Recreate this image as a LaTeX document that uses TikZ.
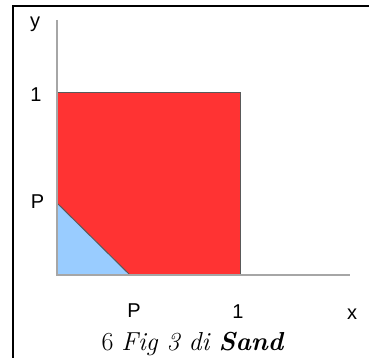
\documentclass[tikz,border=0pt]{standalone}
\usepackage{fontspec}
\newfontfamily\labelfont{Liberation Sans}
\usetikzlibrary{positioning}
\definecolor{sqred}{HTML}{FF3333}
\definecolor{triblue}{HTML}{99CCFF}
\begin{document}
\begin{tikzpicture}[
  x = 1pt, y = -1pt,
  axislab/.style  = {font=\labelfont\fontsize{20}{22}\selectfont, inner sep=0pt},
  caption/.style  = {font=\fontsize{26}{30}\selectfont, inner sep=0pt, anchor=base},
  axisline/.style = {draw=black!35, line width=1.2pt},
  region/.style   = {draw=black!65, line width=1pt},
  frameline/.style = {draw=black, line width=2.4pt}
]
\useasboundingbox (0,0) rectangle (369,358);

% ---- frame (only top and left edges are in view) -----------------------
\coordinate (frame top) at (369,6);
\coordinate (frame corner) at (13,6);
\coordinate (frame bottom) at (13,358);
\draw[frameline] (frame top) -- (frame corner) -- (frame bottom);

% ---- key points -----------------------------------------------------
\coordinate (O)    at (57,275);
\coordinate (ytop) at (57,20);
\coordinate (xend) at (350,275);
\coordinate (sqtl) at (57,93);
\coordinate (sqtr) at (240,93);
\coordinate (sqbr) at (240,275);
\coordinate (py)   at (57,203);
\coordinate (px)   at (130,275);

% ---- regions ----------------------------------------------------------
\fill[sqred] (O) rectangle (sqtr);
\fill[triblue] (O) -- (py) -- (px) -- cycle;
\draw[region] (sqtl) -- (sqtr) -- (sqbr);
\draw[region] (py) -- (px);

% ---- axes -------------------------------------------------------------
\draw[axisline] (ytop) -- (O) -- (xend);

% ---- labels -----------------------------------------------------------
\node[axislab] (ylab)  at (35,24)  {y};
\node[axislab] (one y) at (36,95)  {1};
\node[axislab] (p y)   at (37.5,202) {P};
\node[axislab] (p x)   at (134,311) {P};
\node[axislab] (one x) at (238,312) {1};
\node[axislab] (xlab)  at (352,314) {x};

\node[caption] (cap) at (193,350) {6 \textit{Fig 3 di} \textbf{\textit{Sand}}};

\end{tikzpicture}
\end{document}
